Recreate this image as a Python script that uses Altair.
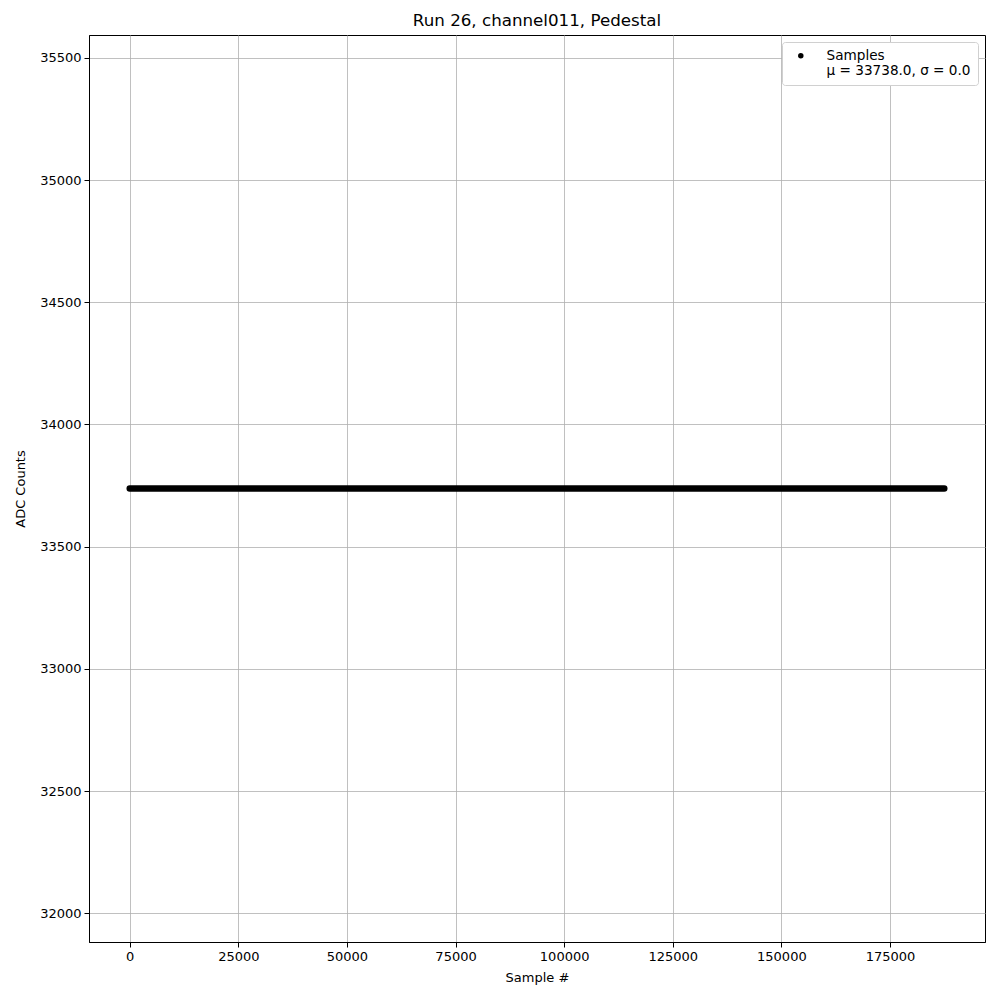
import altair as alt
import pandas as pd

# Data
sample_index = [0, 187499]
adc_counts = [33738.0, 33738.0]
series_name = ["Samples", "Samples"]

x_ticks = [0, 25000, 50000, 75000, 100000, 125000, 150000, 175000]
y_ticks = [32000, 32500, 33000, 33500, 34000, 34500, 35000, 35500]

df = pd.DataFrame({"sample": sample_index, "adc": adc_counts, "series": series_name})

FONT = "DejaVu Sans"

line = alt.Chart(df).mark_line(strokeWidth=6.5, strokeCap="round").encode(
    x=alt.X(
        "sample:Q",
        title="Sample #",
        scale=alt.Scale(domain=[-9375, 196875], nice=False, zero=False),
        axis=alt.Axis(values=x_ticks, format="d"),
    ),
    y=alt.Y(
        "adc:Q",
        title="ADC Counts",
        scale=alt.Scale(domain=[31882.4, 35593.6], nice=False, zero=False),
        axis=alt.Axis(values=y_ticks, format="d"),
    ),
    color=alt.Color(
        "series:N",
        scale=alt.Scale(range=["black"]),
        legend=alt.Legend(
            title=None,
            orient="top-right",
            offset=7,
            symbolType="circle",
            symbolFillColor="black",
            symbolStrokeWidth=0,
            symbolSize=30,
            labelExpr="['Samples', 'μ = 33738.0, σ = 0.0']",
            labelFontSize=13.6,
            labelFont=FONT,
            labelColor="black",
            strokeColor="#d0d0d0",
            fillColor="white",
            cornerRadius=3,
            padding=7,
            symbolOffset=5,
            labelOffset=19,
        ),
    ),
)

chart = line.properties(
    width=896,
    height=907,
    title=alt.Title(
        "Run 26, channel011, Pedestal",
        font=FONT,
        fontSize=16.7,
        fontWeight="normal",
        color="black",
        offset=5,
    ),
    background="white",
    autosize=alt.AutoSizeParams(type="none"),
    padding={"left": 81, "top": 27, "right": 7, "bottom": 50},
).configure_axis(
    grid=True,
    gridColor="#b0b0b0",
    gridWidth=0.8,
    domainColor="black",
    domainWidth=1,
    tickColor="black",
    tickSize=5,
    labelFont=FONT,
    labelFontSize=13,
    labelColor="black",
    titleFont=FONT,
    titleFontSize=13,
    titleFontWeight="normal",
    titleColor="black",
    labelPadding=3,
).configure_axisY(
    titlePadding=12,
).configure_axisX(
    titlePadding=8,
).configure_view(
    stroke="black",
    strokeWidth=1,
)

chart.save("out.html", embed_options={"renderer": "svg", "actions": False})
